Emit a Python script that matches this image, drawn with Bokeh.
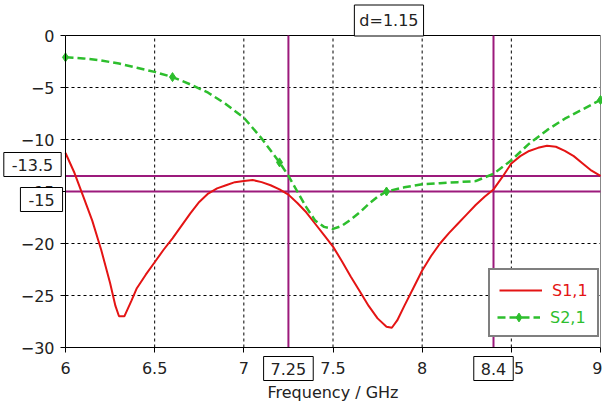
import numpy as np
from bokeh.plotting import figure
from bokeh.models import Label, Legend, LegendItem, FixedTicker, Range1d
from bokeh.embed import file_html
from bokeh.resources import INLINE

# ---- data ----
s11_freq = [6.00, 6.05, 6.10, 6.15, 6.20, 6.25, 6.28, 6.30, 6.33, 6.37, 6.40, 6.45, 6.50,
            6.55, 6.60, 6.65, 6.70, 6.75, 6.80, 6.85, 6.90, 6.95, 7.00, 7.05, 7.10, 7.15,
            7.20, 7.25, 7.30, 7.35, 7.40, 7.45, 7.50, 7.55, 7.60, 7.65, 7.70, 7.75, 7.80,
            7.83, 7.86, 7.90, 7.95, 8.00, 8.05, 8.10, 8.15, 8.20, 8.25, 8.30, 8.35, 8.40,
            8.45, 8.50, 8.55, 8.60, 8.65, 8.70, 8.75, 8.80, 8.85, 8.90, 8.95, 9.00]
s11_db = [-11.3, -13.2, -15.5, -17.8, -20.6, -23.8, -26.0, -27.0, -27.0, -25.5, -24.3, -23.0, -21.8,
          -20.6, -19.5, -18.3, -17.1, -16.0, -15.2, -14.7, -14.4, -14.1, -14.0, -13.9, -14.1, -14.4,
          -14.8, -15.3, -16.1, -17.0, -18.1, -19.2, -20.3, -21.7, -23.2, -24.6, -26.0, -27.2, -28.0,
          -28.1, -27.4, -26.0, -24.3, -22.6, -21.2, -20.0, -19.0, -18.1, -17.2, -16.3, -15.5, -14.8,
          -13.6, -12.3, -11.6, -11.1, -10.8, -10.6, -10.7, -11.1, -11.6, -12.3, -13.0, -13.5]

s21_freq = [6.00, 6.10, 6.20, 6.30, 6.40, 6.50, 6.60, 6.70, 6.80, 6.90, 7.00, 7.10, 7.20, 7.25,
            7.30, 7.35, 7.40, 7.45, 7.50, 7.55, 7.60, 7.65, 7.70, 7.75, 7.80, 7.90, 8.00, 8.10,
            8.20, 8.30, 8.40, 8.50, 8.60, 8.70, 8.80, 8.90, 9.00]
s21_db = [-2.1, -2.2, -2.4, -2.7, -3.1, -3.5, -4.0, -4.7, -5.5, -6.6, -7.9, -9.9, -12.2, -13.5,
          -15.0, -16.5, -17.8, -18.4, -18.6, -18.3, -17.7, -17.0, -16.2, -15.5, -15.0, -14.6, -14.3, -14.2,
          -14.1, -14.0, -13.3, -12.0, -10.4, -9.1, -8.0, -7.1, -6.2]
s21_marker_freq = [6.0, 6.6, 7.2, 7.8, 9.0]

x_ticks = [6, 6.5, 7, 7.5, 8, 8.5, 9]
y_ticks = [0, -5, -10, -15, -20, -25, -30]

marker_x = [7.25, 8.4]
marker_y = [-13.5, -15]
delta_text = "d=1.15"

# ---- styling / layout ----
FONT = "DejaVu Sans"
RED = "#e41414"
GREEN = "#2dbe2d"
PURPLE = "#9c1a7c"
TXT = "#222222"
W, H = 602, 408
L, R, T, B = 65, 600, 35, 347          # pixel box of the plot area

xmin, xmax = min(x_ticks), max(x_ticks)
ymin, ymax = min(y_ticks), max(y_ticks)
sx = (R - L) / (xmax - xmin)
sy = (B - T) / (ymax - ymin)
x_range = Range1d(xmin - L / sx, xmax + (W - R) / sx)
y_range = Range1d(ymin - (H - B) / sy, ymax + T / sy)

p = figure(width=W, height=H, x_range=x_range, y_range=y_range,
           output_backend="svg", toolbar_location=None, min_border=0)
p.title.visible = False
p.outline_line_color = None
p.xgrid.visible = False
p.ygrid.visible = False

xa, ya = p.xaxis[0], p.yaxis[0]
xa.fixed_location = ymin
xa.bounds = (xmin, xmax)
ya.fixed_location = xmin
ya.bounds = (ymin, ymax)
for ax in (xa, ya):
    ax.axis_line_color = "black"
    ax.major_tick_line_color = "black"
    ax.major_tick_out = 5
    ax.major_tick_in = 0
    ax.minor_tick_line_color = None
    ax.major_label_text_font = FONT
    ax.major_label_text_font_size = "16px"
    ax.major_label_text_color = TXT
xa.ticker = FixedTicker(ticks=x_ticks)
ya.ticker = FixedTicker(ticks=y_ticks)
xa.major_label_overrides = {6: "6", 7: "7", 8: "8", 9: "9"}
xa.major_label_standoff = 9
ya.major_label_standoff = 6
xa.axis_label = "Frequency / GHz"
xa.axis_label_text_font = FONT
xa.axis_label_text_font_size = "16px"
xa.axis_label_text_font_style = "normal"
xa.axis_label_text_color = TXT
xa.axis_label_standoff = 6

# dashed grid, drawn only inside the plot box
gx = x_ticks[1:-1]
gy = y_ticks[1:-1]
p.segment(x0=gx, y0=[ymin] * len(gx), x1=gx, y1=[ymax] * len(gx),
          line_color="black", line_width=1, line_dash="3 3")
p.segment(x0=[xmin] * len(gy), y0=gy, x1=[xmax] * len(gy), y1=gy,
          line_color="black", line_width=1, line_dash="3 3")
# top and right frame edges
p.segment(x0=[xmin], y0=[ymax], x1=[xmax], y1=[ymax], line_color="black", line_width=1)
p.segment(x0=[xmax], y0=[ymin], x1=[xmax], y1=[ymax], line_color="#888888", line_width=1)

# marker lines
p.segment(x0=marker_x, y0=[ymin] * 2, x1=marker_x, y1=[ymax] * 2, line_color=PURPLE, line_width=2)
p.segment(x0=[xmin] * 2, y0=marker_y, x1=[xmax] * 2, y1=marker_y, line_color=PURPLE, line_width=2)

# curves
r1 = p.line(s11_freq, s11_db, line_color=RED, line_width=2)
r2 = p.line(s21_freq, s21_db, line_color=GREEN, line_width=2.5, line_dash="8 4")
f21 = np.array(s21_freq)
mask = np.isin(np.round(f21, 3), np.round(s21_marker_freq, 3))
r3 = p.scatter(f21[mask], np.array(s21_db)[mask], marker="diamond", size=9,
               fill_color=GREEN, line_color=GREEN)

# marker value boxes
lab_style = dict(text_font=FONT, text_font_size="16px", text_color=TXT,
                 background_fill_color="white", border_line_color="black",
                 border_line_width=1, text_align="center", text_baseline="middle",
                 x_units="screen", y_units="screen")
p.add_layout(Label(x=32, y=H - 164, text=f"{marker_y[0]:g}", padding=(8, 6), **lab_style))
p.add_layout(Label(x=41, y=H - 199, text=f"{marker_y[1]:g}", padding=(8, 6), **lab_style))
for mx in marker_x:
    cx = L + (mx - xmin) * sx
    p.add_layout(Label(x=cx, y=H - 368, text=f"{mx:g}", padding=(7, 6), **lab_style))
cxd = L + (sum(marker_x) / 2 - xmin) * sx
p.add_layout(Label(x=cxd - 2, y=H - 20, text=delta_text, padding=(5, 6), **lab_style))

# legend (outer box with S1,1; second layer draws S2,1 in green)
common = dict(margin=0, spacing=3, glyph_width=43, glyph_height=22, label_height=22,
              label_standoff=10, label_text_font=FONT, label_text_font_size="16px",
              background_fill_color="white", background_fill_alpha=1)
legA = Legend(items=[LegendItem(label="S1,1", renderers=[r1]),
                     LegendItem(label=" ", renderers=[r2, r3])],
              location=(488, H - 337), padding=9, label_text_color=RED,
              border_line_color="black", border_line_width=2, **common)
legB = Legend(items=[LegendItem(label="S2,1", renderers=[r2, r3])],
              location=(492, H - 337 + 4), padding=5, label_text_color=GREEN,
              border_line_alpha=0, **common)
p.add_layout(legA)
p.add_layout(legB)

open("out.html", "w").write(file_html(p, INLINE))
